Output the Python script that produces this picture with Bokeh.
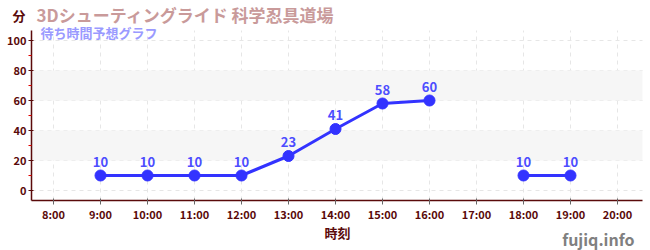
from bokeh.plotting import figure
from bokeh.models import FixedTicker, Label, ColumnDataSource, Range1d, BoxAnnotation
from bokeh.embed import file_html
from bokeh.resources import INLINE
from bokeh.core.properties import value
import numpy as np

hours = [9, 10, 11, 12, 13, 14, 15, 16, 17, 18, 19]
waits = [10, 10, 10, 10, 23, 41, 58, 60, np.nan, 10, 10]
tick_hours = list(range(8, 21))
tick_labels = [f"{h}:00" for h in tick_hours]
y_ticks = [0, 20, 40, 60, 80, 100]
y_minor = [10, 30, 50, 70, 90]
bands = [(20, 40), (60, 80)]

title_text = "3Dシューティングライド 科学忍具道場"
subtitle_text = "待ち時間予想グラフ"
y_unit = "分"
x_label = "時刻"
site = "fujiq.info"

FONT = "Noto Sans CJK JP"
AX = "#5a0a0a"

# plotting area bounds (data units); the frame spans the whole canvas
X_LO, X_HI = 7.53, 20.53
Y_LO, Y_HI = -6.7, 106.7

p = figure(width=650, height=250, output_backend="svg", toolbar_location=None,
           x_range=Range1d(6.872, 20.702), y_range=Range1d(-40, 126.67),
           min_border_left=0, min_border_right=0, min_border_top=0, min_border_bottom=0)
p.outline_line_color = None
p.background_fill_color = "white"
p.border_fill_color = "white"

for lo, hi in bands:
    p.add_layout(BoxAnnotation(bottom=lo, top=hi, left=X_LO, right=X_HI, fill_color="#f6f6f6",
                               fill_alpha=1.0, line_color=None, level="underlay"))

src = ColumnDataSource(dict(x=hours, y=waits, t=[("" if np.isnan(v) else str(int(v))) for v in waits]))
p.line("x", "y", source=src, line_color="#3333ff", line_width=3)
p.scatter("x", "y", source=src, size=11, fill_color="#3333ff", line_color="#3333ff")
p.text("x", "y", text="t", source=src, y_offset=-9, text_align="center", text_baseline="bottom",
       text_font=value(FONT), text_font_style="bold", text_font_size="13px", text_color="#4d4dff")

p.xaxis.ticker = FixedTicker(ticks=tick_hours)
p.xaxis.major_label_overrides = {h: l for h, l in zip(tick_hours, tick_labels)}
p.yaxis.ticker = FixedTicker(ticks=y_ticks, minor_ticks=y_minor)
p.xaxis.fixed_location = Y_LO
p.yaxis.fixed_location = X_LO
p.xaxis.bounds = (X_LO, X_HI)
p.yaxis.bounds = (Y_LO, Y_HI)
for ax in (p.xaxis, p.yaxis):
    ax.axis_line_color = AX
    ax.axis_line_width = 1.5
    ax.major_label_text_font = FONT
    ax.major_label_text_font_style = "bold"
    ax.major_label_text_font_size = "11px"
    ax.major_label_text_color = AX
    ax.major_tick_line_color = AX
p.xaxis.major_tick_in = 2
p.xaxis.major_tick_out = 4
p.xaxis.minor_tick_line_color = None
p.xaxis.major_tick_line_color = "#666666"
p.yaxis.major_tick_in = 2
p.yaxis.major_tick_out = 3
p.yaxis.minor_tick_line_color = "#e00000"
p.yaxis.minor_tick_out = 3
p.yaxis.minor_tick_in = 0
p.xaxis.major_label_standoff = 1
p.yaxis.major_label_standoff = 2

grid_props = p.xgrid[0].properties()
for g in (p.xgrid, p.ygrid):
    g.grid_line_color = "#e6e6e6"
    g.grid_line_dash = "4 4"
if "cross_bounds" in grid_props:
    p.xgrid.cross_bounds = (Y_LO, Y_HI)
    p.ygrid.cross_bounds = (X_LO, X_HI)
else:
    p.xgrid.visible = False
    p.ygrid.visible = False
    p.segment(x0=tick_hours, x1=tick_hours, y0=[Y_LO] * len(tick_hours), y1=[Y_HI] * len(tick_hours),
              line_color="#e6e6e6", line_dash="4 4", level="underlay")
    p.segment(x0=[X_LO] * len(y_ticks), x1=[X_HI] * len(y_ticks), y0=y_ticks, y1=y_ticks,
              line_color="#e6e6e6", line_dash="4 4", level="underlay")

def lab(x, y, text, size, color, align="left", baseline="middle"):
    p.add_layout(Label(x=x, y=y, x_units="screen", y_units="screen", text=text,
                       text_font=FONT, text_font_size=size, text_color=color,
                       text_font_style="bold", text_align=align, text_baseline=baseline))

lab(12, 235, y_unit, "13px", AX)
lab(36, 236, title_text, "17px", "#c99a9a")
lab(40, 218.5, subtitle_text, "13px", "#9a9aff")
lab(337, 18.5, x_label, "13px", AX, align="center")
lab(634, 12, site, "16px", "#808080", align="right", baseline="alphabetic")

open("out.html", "w").write(file_html(p, INLINE))
